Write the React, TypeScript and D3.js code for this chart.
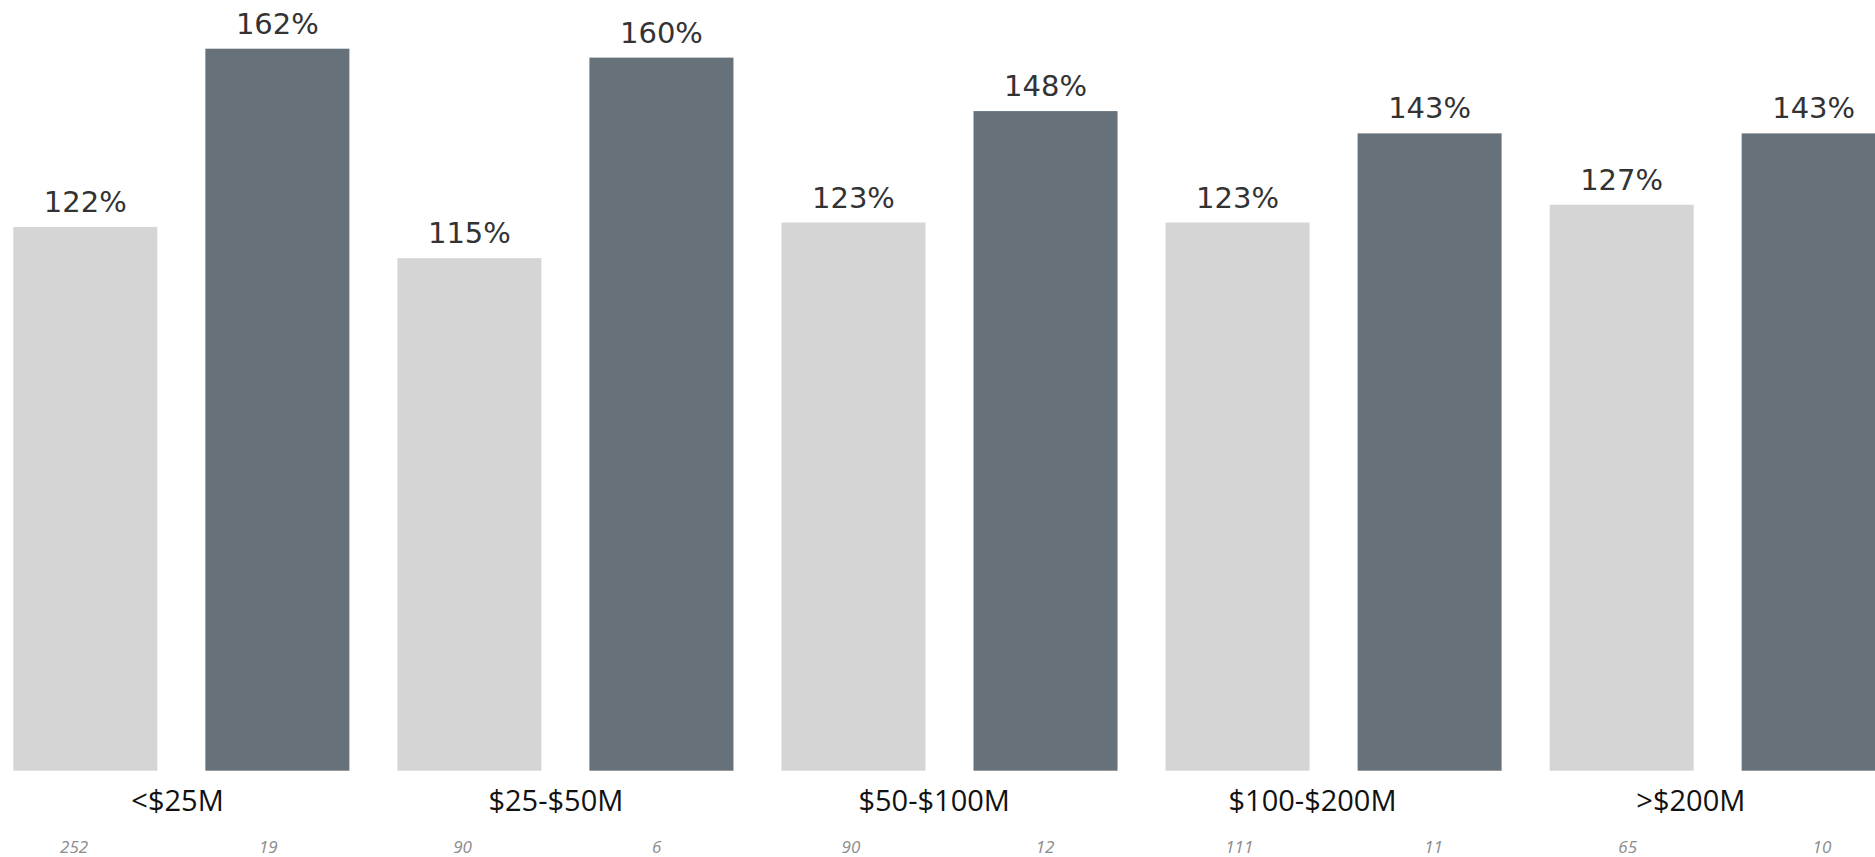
import React from "react";
import * as d3 from "d3";

const categories = ["<$25M", "$25-$50M", "$50-$100M", "$100-$200M", ">$200M"];
const seriesKeys = ["base", "highlight"];
const baseValues = [122, 115, 123, 123, 127];
const highlightValues = [162, 160, 148, 143, 143];
const baseCounts = ["252", "90", "90", "111", "65"];
const highlightCounts = ["19", "6", "12", "11", "10"];

const W = 1875;
const H = 857;
const COLORS: Record<string, string> = { base: "#d5d5d5", highlight: "#66717a" };

export default function App() {
  const x0 = d3.scaleBand<string>().domain(categories).range([-10.7, 1909.7]).paddingInner(0).paddingOuter(0);
  const x1 = d3
    .scaleBand<string>()
    .domain(seriesKeys)
    .range([0, x0.bandwidth()])
    .paddingInner(0.25)
    .paddingOuter(0.125);
  const y = d3.scaleLinear().domain([0, 162]).range([770.7, 48.7]);

  const labelScale = d3.scaleBand<string>().domain(categories).range([-11.6, 1880]);

  const countKeys: string[] = [];
  const countLabels: string[] = [];
  categories.forEach((c, i) => {
    countKeys.push(c + "|base", c + "|highlight");
    countLabels.push(baseCounts[i], highlightCounts[i]);
  });
  const countScale = d3.scaleBand<string>().domain(countKeys).range([-23, 1919]);

  const rows = categories.map((c, i) => ({
    cat: c,
    vals: [
      { key: "base", v: baseValues[i] },
      { key: "highlight", v: highlightValues[i] },
    ],
  }));

  return (
    <div style={{ position: "absolute", left: 0, top: 0 }}>
      <svg width={W} height={H} style={{ display: "block", background: "#fff" }}>
        {rows.map((r) => (
          <g key={r.cat} transform={`translate(${x0(r.cat)},0)`}>
            {r.vals.map((d) => {
              const bx = x1(d.key)!;
              const bw = x1.bandwidth();
              return (
                <g key={d.key}>
                  <rect x={bx} y={y(d.v)} width={bw} height={y(0) - y(d.v)} fill={COLORS[d.key]} />
                  <text
                    x={bx + bw / 2}
                    y={y(d.v) - 15}
                    textAnchor="middle"
                    fontFamily="'DejaVu Sans', sans-serif"
                    fontSize={29}
                    fill="#333"
                  >
                    {d.v}%
                  </text>
                </g>
              );
            })}
          </g>
        ))}
        {categories.map((c) => (
          <text
            key={c}
            x={labelScale(c)! + labelScale.bandwidth() / 2}
            y={811}
            textAnchor="middle"
            fontFamily="'Open Sans', sans-serif"
            fontSize={29}
            fill="#111"
          >
            {c}
          </text>
        ))}
        {countKeys.map((k, i) => (
          <text
            key={k}
            x={countScale(k)! + countScale.bandwidth() / 2}
            y={853}
            textAnchor="middle"
            fontFamily="'Open Sans', sans-serif"
            fontStyle="italic"
            fontSize={17}
            fill="#8c8c8c"
          >
            {countLabels[i]}
          </text>
        ))}
      </svg>
    </div>
  );
}
